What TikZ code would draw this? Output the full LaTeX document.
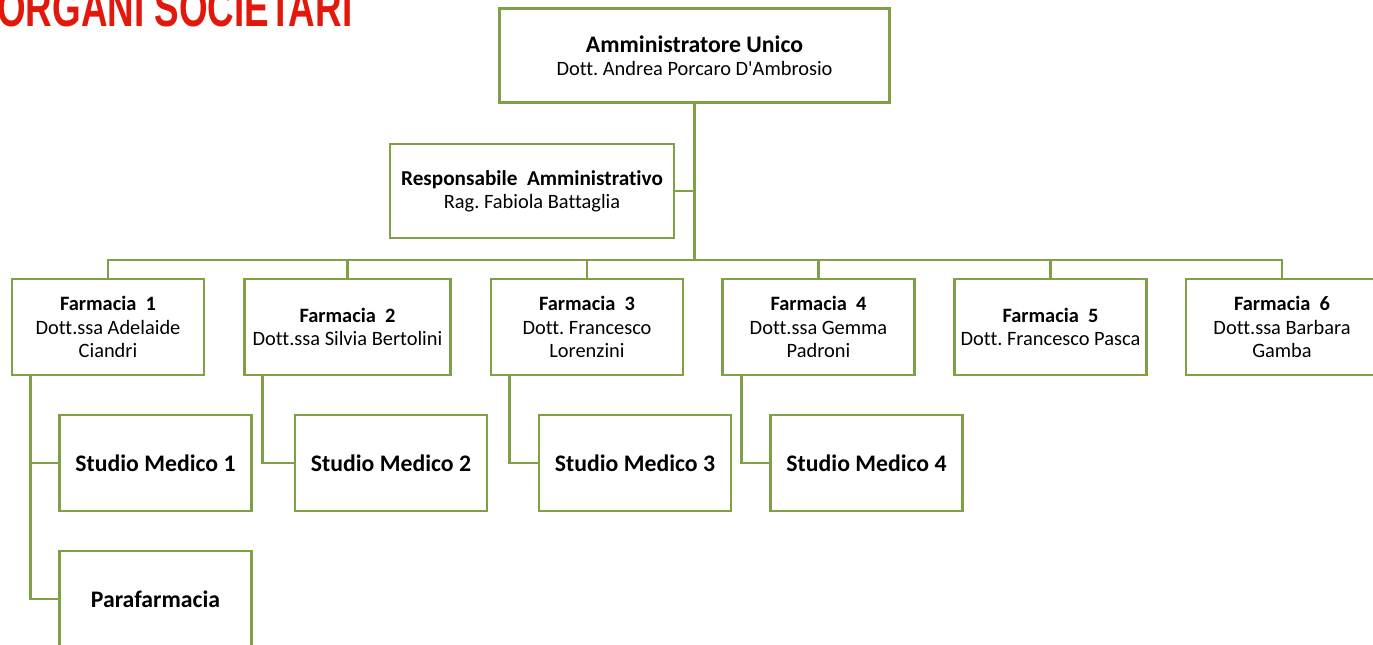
\documentclass[tikz,border=0pt]{standalone}
\usepackage{fontspec}
\setmainfont{Carlito}[Ligatures=NoCommon]
\newfontfamily\titlefont{Liberation Sans}
\usepackage{tikz}
\usetikzlibrary{positioning}
\frenchspacing
\definecolor{orgGreen}{RGB}{128,160,70}
\definecolor{titleRed}{RGB}{226,24,12}
\tikzstyle{title}=[text=titleRed,inner sep=0pt,xscale=0.69,
                   font=\titlefont\bfseries\fontsize{40}{40}\selectfont]
\tikzstyle{unit}=[draw=orgGreen,line width=2.2pt,fill=white,align=center,
                  inner sep=2pt,font=\fontsize{15.3}{17.5}\selectfont]
\tikzstyle{farm}=[unit,minimum width=144pt,minimum height=72pt]
\tikzstyle{sub}=[farm,font=\fontsize{17.8}{20}\selectfont\bfseries]
\tikzstyle{link}=[draw=orgGreen,line width=2.2pt]

\begin{document}
\begin{tikzpicture}[x=0.75pt,y=-0.75pt]
\useasboundingbox (0,0) rectangle (1373,645);
\clip (0,0) rectangle (1373,645);
\node[title,anchor=base west] (title) at (-3,27) {ORGANI SOCIETARI};

% vertici
\node[unit,minimum width=293pt,minimum height=71pt] (amm) at (694.5,55.5)
  {{\fontsize{17.8}{19}\selectfont\bfseries Amministratore Unico}\\Dott. Andrea Porcaro D\textquotesingle Ambrosio};
\node[unit,minimum width=213pt,minimum height=70.5pt] (resp) at (532,191)
  {{\fontsize{15.9}{17.5}\selectfont\bfseries Responsabile~~Amministrativo}\\Rag. Fabiola Battaglia};

% farmacie
\node[farm] (f1) at (108,327) {\textbf{Farmacia~~1}\\Dott.ssa Adelaide\\Ciandri};
\node[farm,minimum width=155pt] (f2) at (347.5,327) {\textbf{Farmacia~~2}\\Dott.ssa Silvia Bertolini};
\node[farm] (f3) at (587,327) {\textbf{Farmacia~~3}\\Dott. Francesco\\Lorenzini};
\node[farm] (f4) at (818.5,327) {\textbf{Farmacia~~4}\\Dott.ssa Gemma\\Padroni};
\node[farm] (f5) at (1050.5,327) {\textbf{Farmacia~~5}\\Dott. Francesco Pasca};
\node[farm] (f6) at (1282,327) {\textbf{Farmacia~~6}\\Dott.ssa Barbara\\Gamba};

% studi medici
\node[sub] (sm1) at (155.5,463) {Studio Medico 1};
\node[sub] (sm2) at (391,463) {Studio Medico 2};
\node[sub] (sm3) at (635,463) {Studio Medico 3};
\node[sub] (sm4) at (866.5,463) {Studio Medico 4};
\node[sub] (para) at (155.5,599) {Parafarmacia};

% collegamenti
\coordinate (bus) at (694.5,260);
\draw[link] (amm.south) -- (bus);
\draw[link] (resp.east) -- (resp.east -| bus);
\draw[link] (f1.north) -- (f1.north |- bus) -- (f6.north |- bus) -- (f6.north);
\foreach \f in {f2,f3,f4,f5}
  \draw[link] (\f.north) -- (\f.north |- bus);

\coordinate (t1) at ([xshift=15pt]f1.south west);
\draw[link] (t1) |- (para.west);
\draw[link] (t1 |- sm1.west) -- (sm1.west);
\foreach \f/\s in {f2/sm2,f3/sm3,f4/sm4}
  \draw[link] ([xshift=15pt]\f.south west) |- (\s.west);
\end{tikzpicture}
\end{document}
